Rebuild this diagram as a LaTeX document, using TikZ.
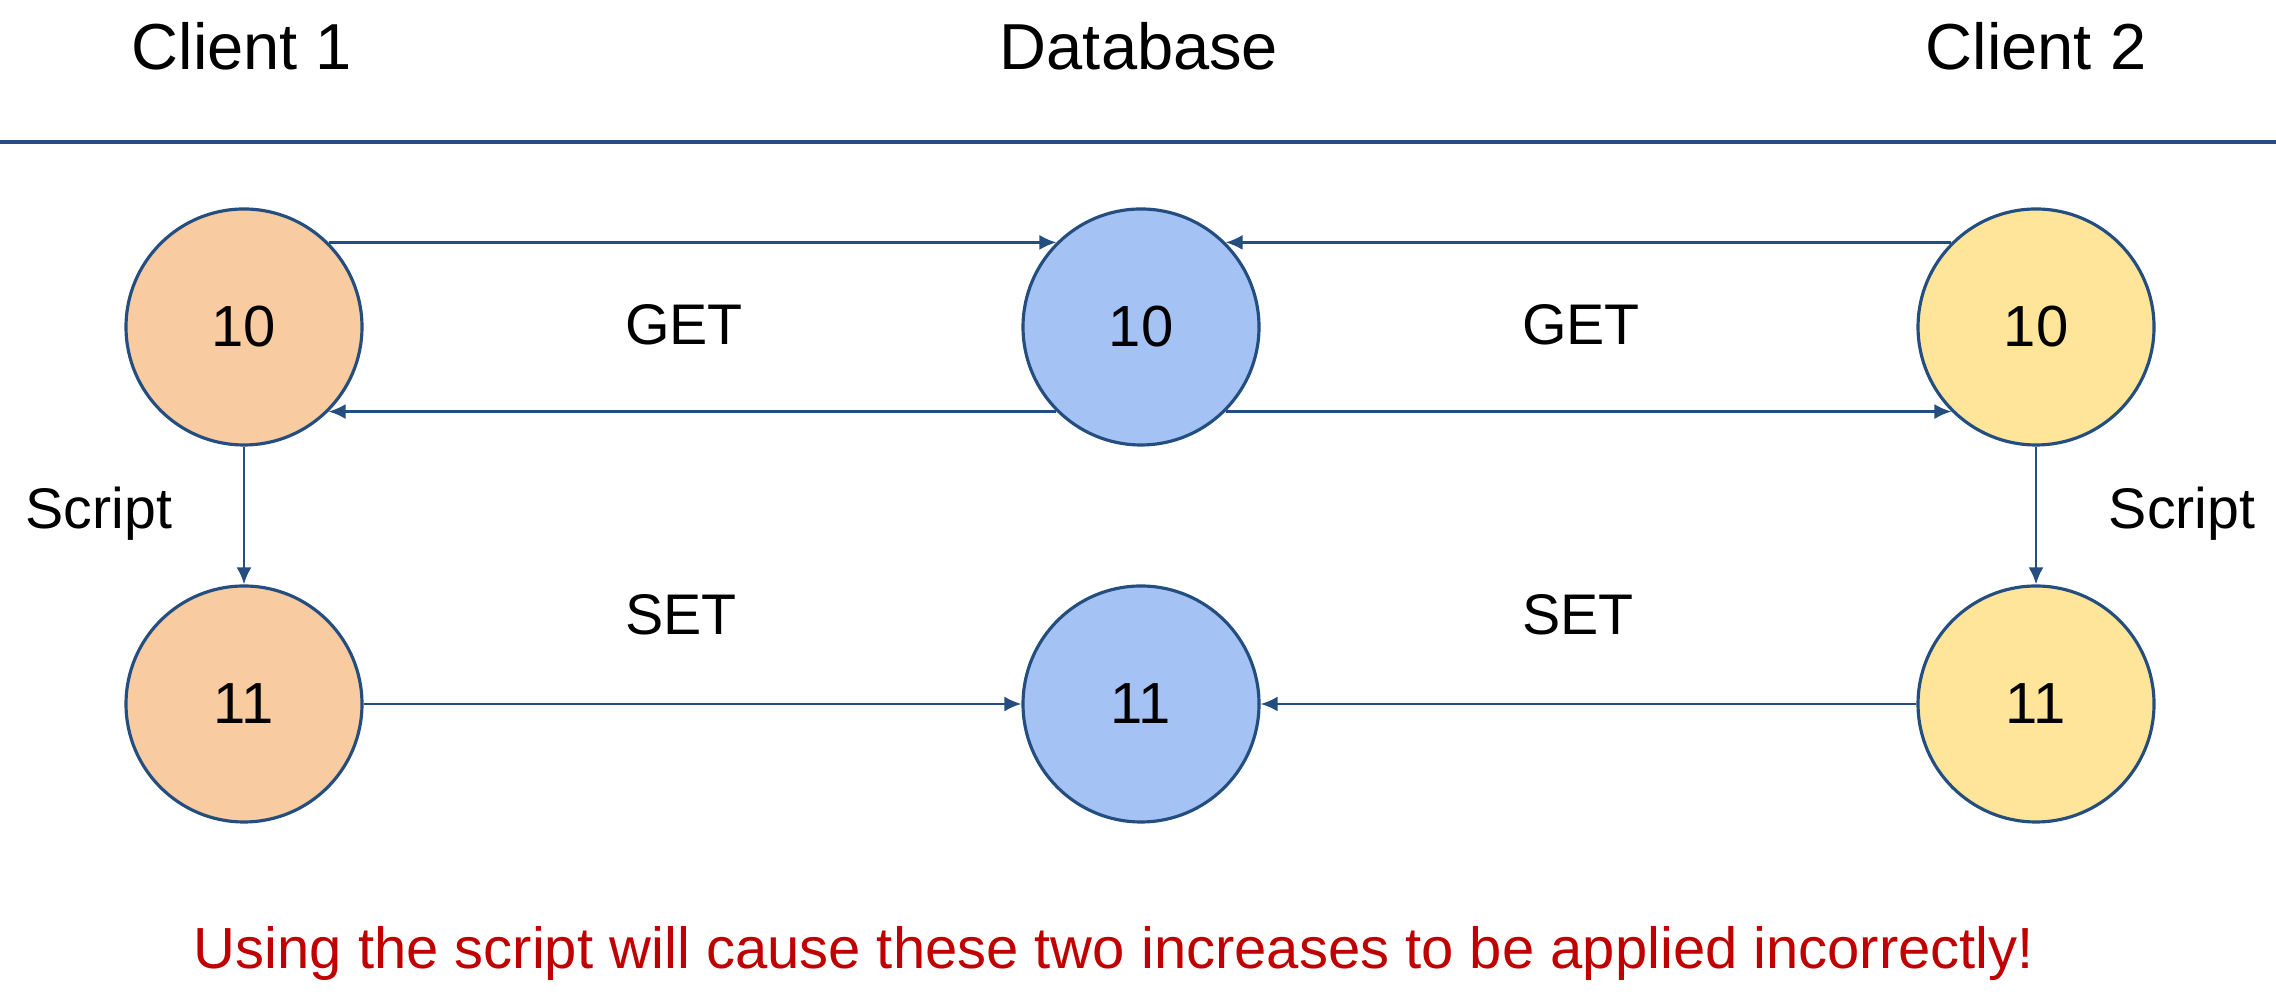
\documentclass[tikz,border=0pt]{standalone}
\usepackage{fontspec}
\setmainfont{Liberation Sans}
\usetikzlibrary{positioning,arrows.meta}
\definecolor{edge}{HTML}{234E7F}
\definecolor{cOne}{HTML}{F8CBA0}
\definecolor{cDb}{HTML}{A4C2F4}
\definecolor{cTwo}{HTML}{FFE599}
\definecolor{warn}{HTML}{C00000}
\tikzset{
  val/.style={circle, draw=edge, line width=0.9pt, minimum size=2.36cm, inner sep=0pt, font=\fontsize{16.5}{18}\selectfont},
  lbl/.style={font=\fontsize{16.3}{18}\selectfont, text=black},
  msg/.style={draw=edge, line width=0.7pt, -{Latex[length=0.17cm,width=0.15cm]}},
}
\begin{document}
\begin{tikzpicture}[
  head/.style={font=\fontsize{18.5}{20}\selectfont, text=black}]
\useasboundingbox (0,0) rectangle (22.76,10);
% column heads
\node[head] (h1) at (2.42,9.54) {Client 1};
\node[head] (hd) at (11.39,9.54) {Database};
\node[head] (h2) at (20.36,9.54) {Client 2};
\coordinate (rl) at (0,8.58);
\coordinate (rr) at (22.76,8.58);
\draw[edge, line width=1pt] (rl) -- (rr);
% values
\node[val, fill=cOne] (c1a) at (2.44,6.73) {10};
\node[val, fill=cDb]  (dba) at (11.41,6.73) {10};
\node[val, fill=cTwo] (c2a) at (20.36,6.73) {10};
\node[val, fill=cOne] (c1b) at (2.44,2.96) {11};
\node[val, fill=cDb]  (dbb) at (11.41,2.96) {11};
\node[val, fill=cTwo] (c2b) at (20.36,2.96) {11};
% requests
\draw[msg] (c1a.north east) -- (dba.north west);
\draw[msg] (c2a.north west) -- (dba.north east);
\draw[msg] (dba.south west) -- (c1a.south east);
\draw[msg] (dba.south east) -- (c2a.south west);
\draw[msg] (c1a) -- (c1b);
\draw[msg] (c2a) -- (c2b);
\draw[msg] (c1b) -- (dbb);
\draw[msg] (c2b) -- (dbb);
\node[lbl] (g1) at (6.84,6.75) {GET};
\node[lbl] (g2) at (15.81,6.75) {GET};
\node[lbl] (s1) at (6.81,3.85) {SET};
\node[lbl] (s2) at (15.78,3.85) {SET};
\node[lbl] (k1) at (0.99,4.86) {Script};
\node[lbl] (k2) at (21.82,4.86) {Script};
\node[lbl, text=warn, font=\fontsize{16.5}{18}\selectfont] (note) at (11.14,0.46) {Using the script will cause these two increases to be applied incorrectly!};
\end{tikzpicture}
\end{document}
